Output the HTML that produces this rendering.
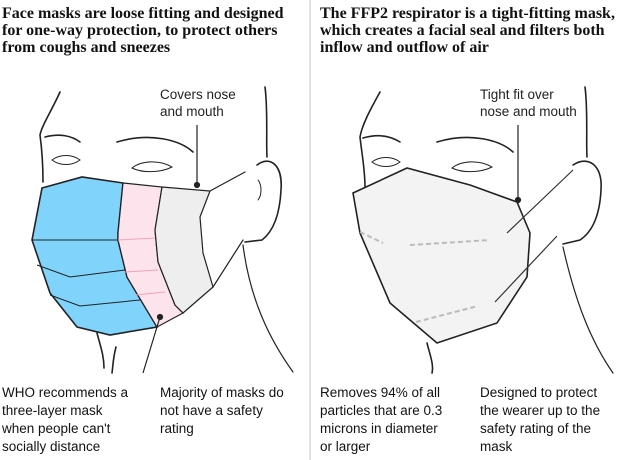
<!DOCTYPE html>
<html><head><meta charset="utf-8"><style>
html,body{margin:0;padding:0;background:#fff;}
body{width:620px;height:460px;position:relative;overflow:hidden;font-family:"Liberation Sans",sans-serif;color:#121212;}
.t{position:absolute;font-family:"Liberation Serif",serif;font-weight:bold;font-size:16px;line-height:17px;white-space:nowrap;}
.b{position:absolute;font-size:13.5px;line-height:18px;white-space:nowrap;}
.l{position:absolute;font-size:13.5px;line-height:17px;color:#222;white-space:nowrap;}
svg{position:absolute;left:0;top:0;}
</style></head><body>
<svg width="620" height="460" viewBox="0 0 620 460">
<line x1="310" y1="0" x2="310" y2="460" stroke="#dcdcdc" stroke-width="1.5"/>
<g fill="none" stroke="#222" stroke-width="1.6" stroke-linecap="round">
<path d="M60,92 C52,110 42,125 40,135 C42,150 43,165 43,182"/>
<path d="M265,87 C268,110 266,140 267,157"/>
<path d="M257,165 C270,155 283,165 281,190 C280,210 275,230 262,240 L245,242"/>
<path d="M258,180 C262,185 262,195 258,200" stroke-width="1"/>
<path d="M243,245 C250,300 270,340 293,372" stroke-width="1.2"/>
<path d="M97,333 C100,345 104,355 104,368"/>
<path d="M116,347 C113,358 113,366 112,373"/>
<path d="M45,137 C60,133 72,136 80,142"/>
<path d="M117,142 C150,132 180,140 193,152"/>
<path d="M52,160 C60,154 72,154 80,160 C72,166 60,166 52,160Z" stroke-width="1"/>
<path d="M132,168 C142,160 160,160 172,167 C160,173 142,173 132,168Z" stroke-width="1"/>
<path d="M210,191 L245,172 M213,287 L243,240" stroke-width="1.2"/>
<path d="M380,92 C370,110 362,125 360,137 C362,155 365,170 365,187"/>
<path d="M585,87 C588,110 586,140 587,157"/>
<path d="M573,165 C588,155 603,165 601,190 C600,210 595,230 580,240 L563,244"/>
<path d="M563,247 C575,300 590,340 613,373" stroke-width="1.2"/>
<path d="M427,343 C430,355 434,365 432,373"/>
<path d="M363,138 C380,133 392,137 400,142"/>
<path d="M437,142 C470,132 500,140 513,152"/>
<path d="M372,162 C380,156 392,156 400,162 C392,168 380,168 372,162Z" stroke-width="1"/>
<path d="M452,168 C462,160 480,160 492,167 C480,173 462,173 452,168Z" stroke-width="1"/>
</g>
<path d="M42,188 L82,177 L123,183 L118,233 L118,240 L127,277 L157,327 L110,335 L77,327 L50,293 L32,240 Z" fill="#80d4fb" stroke="#222" stroke-width="1.6"/>
<path d="M32,240 L118,240 M37,265 L70,277 L125,270 M50,295 L80,306 L140,300" fill="none" stroke="#222" stroke-width="1"/>
<path d="M123,183 L162,187 L155,230 L158,262 L175,305 L183,313 L157,327 L127,277 L118,240 L118,233 Z" fill="#fde3ec" stroke="#222" stroke-width="1.2"/>
<path d="M118,240 L155,238 M125,272 L158,270 M135,295 L165,292" fill="none" stroke="#f4a0c0" stroke-width="1"/>
<path d="M162,187 L210,191 L200,217 L203,253 L213,287 L183,313 L175,305 L158,262 L155,230 Z" fill="#eeeeee" stroke="#222" stroke-width="1.2"/>
<path d="M353,193 L407,168 L470,185 L517,202 L530,233 L527,277 L497,323 L437,343 L390,303 L360,233 Z" fill="#f3f3f3" stroke="#222" stroke-width="1.6"/>
<path d="M410,245 L490,240 M416,322 L478,306 M360,232 L383,243" fill="none" stroke="#bbb" stroke-width="2" stroke-dasharray="5,3"/>
<path d="M507,233 L573,170 M495,302 L557,236" stroke="#333" stroke-width="1.2" fill="none"/>
<g stroke="#222" stroke-width="1.2" fill="#222">
<line x1="197" y1="125" x2="197" y2="185"/><circle cx="197" cy="185" r="2.5"/>
<line x1="160" y1="317" x2="143" y2="373"/><circle cx="160" cy="317" r="2.5"/>
<line x1="518" y1="125" x2="518" y2="200"/><circle cx="518" cy="200" r="2.5"/>
</g>
</svg>
<div class="t" style="left:2px;top:5px;">Face masks are loose fitting and designed<br>for one-way protection, to protect others<br>from coughs and sneezes</div>
<div class="t" style="left:320px;top:5px;">The FFP2 respirator is a tight-fitting mask,<br>which creates a facial seal and filters both<br>inflow and outflow of air</div>
<div class="l" style="left:160px;top:86px;">Covers nose<br>and mouth</div>
<div class="l" style="left:480px;top:86px;">Tight fit over<br>nose and mouth</div>
<div class="b" style="left:2px;top:384px;">WHO recommends a<br>three-layer mask<br>when people can't<br>socially distance</div>
<div class="b" style="left:160px;top:384px;">Majority of masks do<br>not have a safety<br>rating</div>
<div class="b" style="left:320px;top:384px;">Removes 94% of all<br>particles that are 0.3<br>microns in diameter<br>or larger</div>
<div class="b" style="left:480px;top:384px;">Designed to protect<br>the wearer up to the<br>safety rating of the<br>mask</div>
</body></html>
